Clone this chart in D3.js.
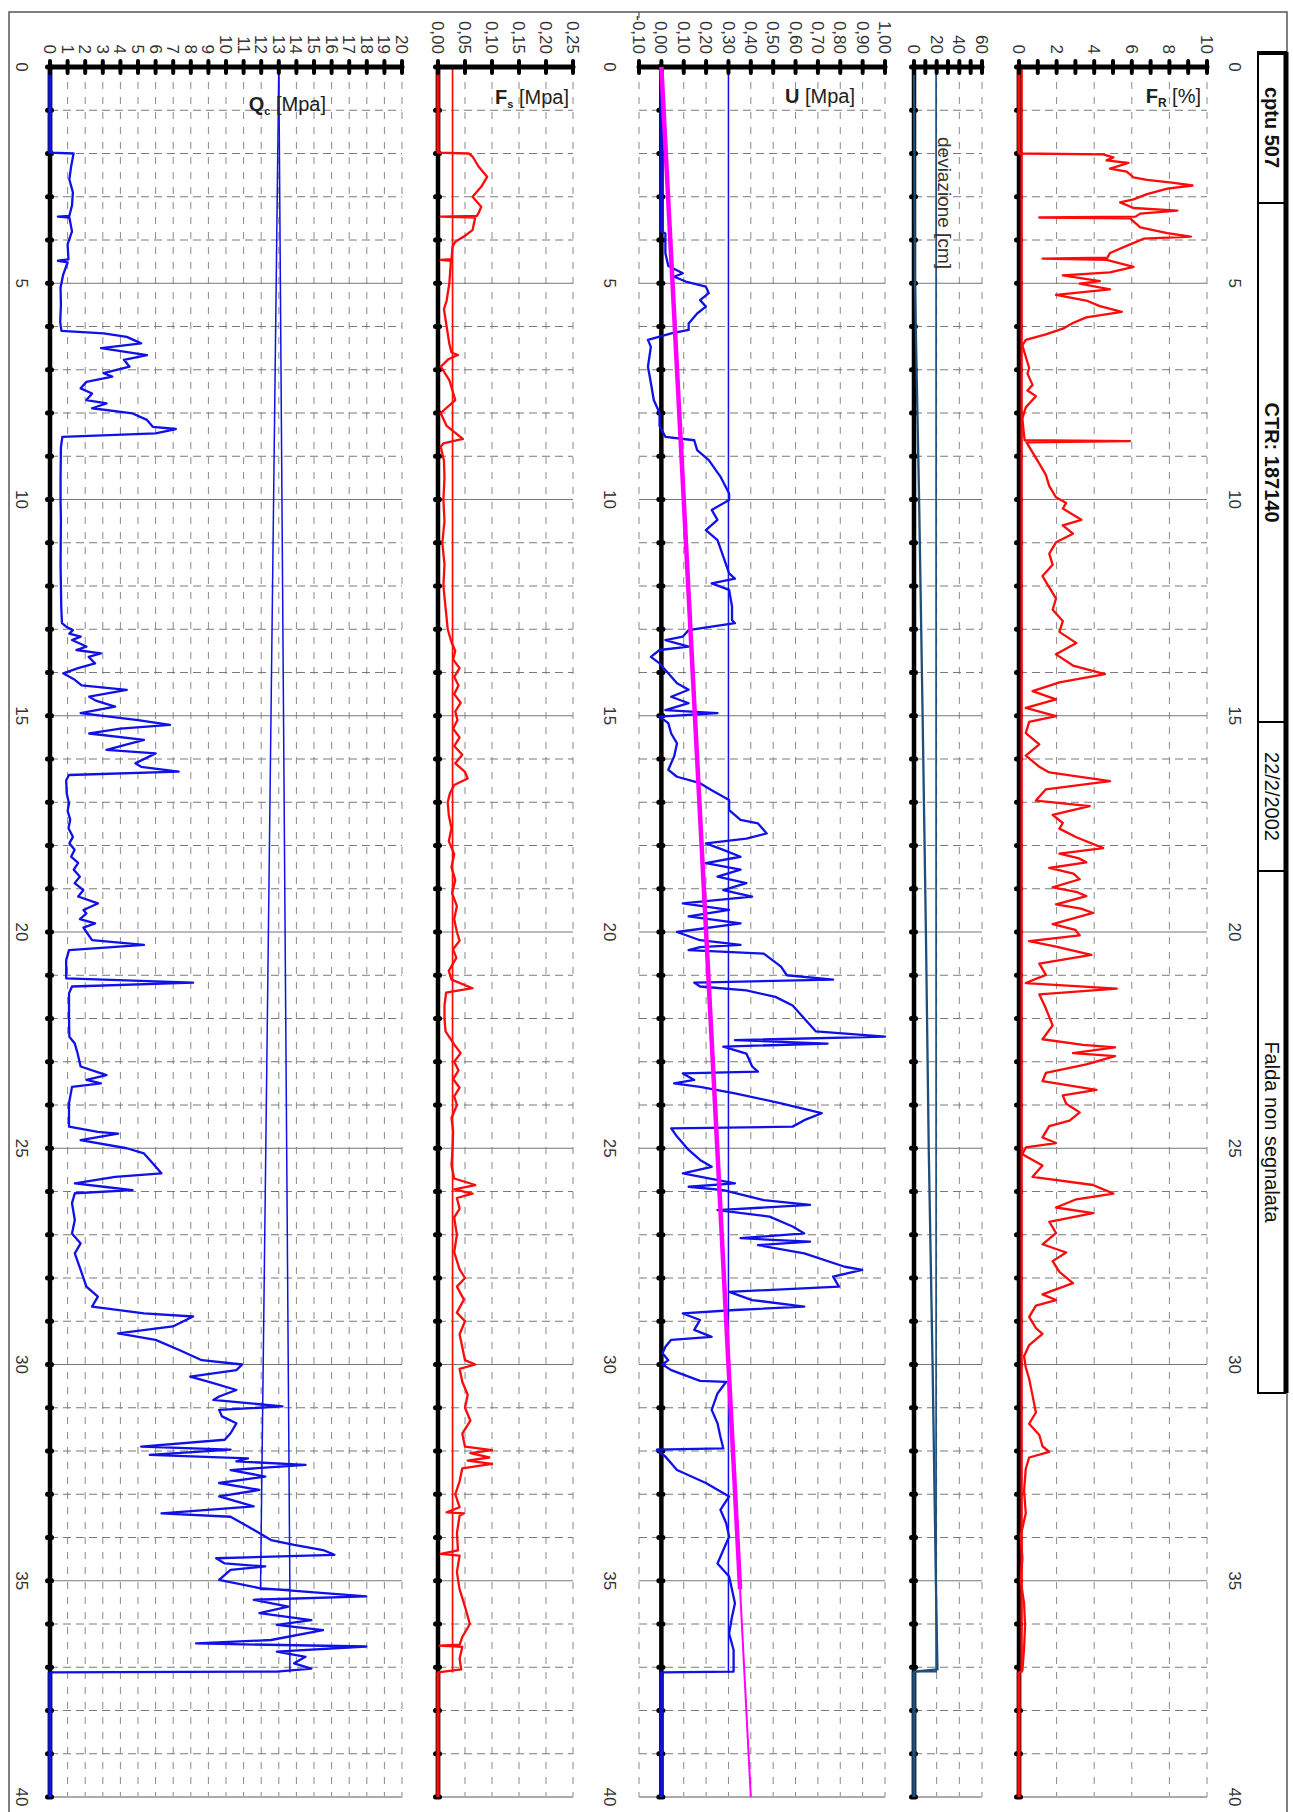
<!DOCTYPE html>
<html><head><meta charset="utf-8">
<script src="https://cdn.jsdelivr.net/npm/d3@7"></script>
<style>
html,body{margin:0;padding:0;background:#fff;}
svg{display:block;font-family:"Liberation Sans",Arial,sans-serif;}
</style></head><body>
<svg id="c" width="1293" height="1812"></svg>
<script>
// ---------------- DATA ----------------
const depthDomain = [0, 40];
const depthTickValues = d3.range(0, 41);
const depthLabels = [0, 5, 10, 15, 20, 25, 30, 35, 40];

const qcTicks = d3.range(0, 21);
const qcTickLabels = qcTicks.map(String);
const fsTicks = [0, 0.05, 0.10, 0.15, 0.20, 0.25];
const fsTickLabels = ["0,00", "0,05", "0,10", "0,15", "0,20", "0,25"];
const uTicks = [-0.1, 0, 0.1, 0.2, 0.3, 0.4, 0.5, 0.6, 0.7, 0.8, 0.9, 1.0];
const uTickLabels = ["-0,10", "0,00", "0,10", "0,20", "0,30", "0,40", "0,50", "0,60", "0,70", "0,80", "0,90", "1,00"];
const devTicks = [0, 10, 20, 30, 40, 50, 60];
const devTickLabels = ["0", "", "20", "", "40", "", "60"];
const frTicks = d3.range(0, 11);
const frTickLabels = ["0", "", "2", "", "4", "", "6", "", "8", "", "10"];

// [depth (m), value]
const qcSeries = [
[0,0],[1.98,0],[2.0,1.34],[2.3,1.2],[2.6,1.1],[2.9,1.3],[3.2,1.25],[3.44,1.1],[3.46,0.45],[3.48,1.1],[3.8,1.25],[4.1,1.0],[4.45,1.05],[4.48,0.45],[4.52,1.0],[4.8,0.75],[5.1,0.6],[5.5,0.62],[5.9,0.58],[6.1,0.65],[6.16,3.05],[6.24,4.36],[6.39,5.18],[6.5,2.9],[6.66,5.51],[6.77,4.2],[6.93,4.52],[7.08,3.05],[7.16,3.54],[7.28,2.07],[7.43,1.74],[7.55,2.39],[7.7,2.07],[7.78,3.21],[7.89,2.39],[8.01,4.69],[8.16,5.51],[8.32,5.84],[8.37,7.15],[8.47,6.0],[8.55,0.7],[8.8,0.62],[9.5,0.6],[10,0.6],
[10.5,0.62],[11.5,0.6],[12.5,0.64],[12.86,0.68],[12.94,0.92],[13.02,1.3],[13.1,1.1],[13.17,1.74],[13.25,1.25],[13.4,2.07],[13.48,1.5],[13.56,2.89],[13.64,2.2],[13.79,2.56],[13.9,1.6],[14.02,0.75],[14.17,1.41],[14.3,1.8],[14.4,4.36],[14.56,2.23],[14.65,2.6],[14.79,3.7],[14.94,1.74],[15.1,5.0],[15.21,6.82],[15.3,4.0],[15.41,2.23],[15.56,5.34],[15.79,3.21],[15.87,6.0],[16.1,4.85],[16.18,5.18],[16.29,7.31],[16.37,1.08],[16.49,0.92],[16.8,0.95],[17.03,1.08],[17.2,1.0],[17.4,1.15],[17.6,1.05],[17.8,1.3],[17.95,1.1],[18.1,1.4],[18.26,1.2],[18.4,1.6],[18.56,1.35],[18.72,1.7],[18.87,1.4],[19.03,1.9],[19.18,1.6],[19.34,2.72],[19.49,1.9],[19.57,2.07],[19.7,1.7],[19.8,2.56],[19.9,1.9],
[20.0,2.07],[20.19,2.39],[20.3,5.34],[20.42,1.08],[20.65,0.92],[21.07,0.92],[21.17,8.13],[21.26,1.25],[21.42,1.08],[22.0,1.08],[22.42,1.1],[22.58,1.41],[22.81,1.57],[23.11,1.74],[23.31,3.21],[23.42,2.07],[23.5,2.89],[23.58,1.25],[23.96,1.08],[24.5,1.08],[24.62,2.72],[24.66,3.87],[24.81,1.74],[25.0,4.36],[25.12,5.34],[25.27,5.67],[25.58,6.33],[25.66,3.7],[25.81,1.41],[25.89,3.05],[25.97,4.69],[26.04,1.41],[26.27,1.25],[26.66,1.41],[26.97,1.25],[27.2,1.74],[27.43,1.41],[27.81,1.74],[28.2,2.07],[28.43,2.72],[28.66,2.39],[28.82,5.34],[28.89,8.13],[29.12,6.98],[29.28,3.87],[29.43,6.0],[29.66,7.31],[29.78,7.97],
[29.9,8.62],[30.0,10.92],[30.13,10.59],[30.28,7.97],[30.43,9.28],[30.59,10.59],[30.74,9.61],[30.82,9.28],[30.97,13.21],[31.05,9.61],[31.2,9.77],[31.36,10.59],[31.59,10.26],[31.74,9.93],[31.9,5.18],[31.97,10.26],[32.09,5.67],[32.17,11.25],[32.24,10.59],[32.32,14.52],[32.44,10.26],[32.59,12.23],[32.74,9.61],[32.9,11.9],[33.05,9.61],[33.28,11.57],[33.44,6.33],[33.52,10.26],[33.67,10.92],[33.82,11.57],[34.06,12.56],[34.17,13.87],[34.29,15.51],[34.4,16.16],[34.48,9.44],[34.6,9.93],[34.67,12.23],[34.75,10.26],[34.98,9.61],[35.17,11.9],[35.36,17.97],[35.44,11.57],[35.6,13.54],[35.75,11.9],[35.91,14.85],[36.02,12.89],[36.14,15.51],[36.37,12.56],[36.45,8.3],[36.52,17.97],[36.64,12.89],[36.76,14.52],[36.91,13.87],[37.03,14.85],[37.1,12.89],[37.12,0],[40,0]
];
const qcRefLow = [[0,13.0],[35.2,11.96],[35.2,13.63]];
const qcRefHigh = [[0,13.0],[35.2,13.63],[37.12,13.63]];

const fsSeries = [
[0,0],[1.98,0],[2.0,0.057],[2.07,0.064],[2.3,0.075],[2.54,0.091],[2.77,0.080],[3.0,0.064],[3.23,0.080],[3.38,0.075],[3.44,0.072],[3.46,0.005],[3.48,0.069],[3.77,0.064],[3.92,0.048],[4.04,0.032],[4.15,0.027],[4.44,0.025],[4.46,0.005],[4.48,0.024],[5.0,0.021],[5.4,0.016],[5.6,0.011],[6.0,0.016],[6.4,0.021],[6.6,0.025],[6.66,0.037],[6.75,0.02],[6.93,0.005],[7.24,0.021],[7.7,0.032],[8.0,0.005],[8.3,0.016],[8.6,0.046],[8.7,0.01],[8.78,0.005],[9.1,0.011],[9.5,0.012],[10,0.01],
[10.5,0.012],[11,0.008],[11.5,0.012],[12,0.01],[12.5,0.014],[13,0.018],[13.3,0.025],[13.5,0.032],[13.7,0.028],[13.9,0.04],[14.1,0.03],[14.3,0.038],[14.5,0.03],[14.7,0.042],[14.9,0.032],[15.1,0.036],[15.3,0.028],[15.5,0.04],[15.7,0.03],[15.9,0.045],[16.1,0.032],[16.3,0.05],[16.45,0.055],[16.6,0.03],[16.8,0.022],[17.0,0.018],[17.3,0.02],[17.6,0.025],[17.9,0.02],[18.2,0.03],[18.5,0.025],[18.8,0.032],[19.1,0.026],[19.4,0.035],[19.7,0.03],[20,0.035],
[20.2,0.04],[20.4,0.028],[20.6,0.034],[20.9,0.02],[21.1,0.025],[21.3,0.064],[21.4,0.015],[21.7,0.012],[22.0,0.012],[22.3,0.014],[22.6,0.03],[22.8,0.042],[23.0,0.03],[23.2,0.038],[23.4,0.028],[23.6,0.04],[23.8,0.03],[24.0,0.035],[24.3,0.025],[24.6,0.028],[25.0,0.027],[25.4,0.025],[25.7,0.03],[25.85,0.069],[25.95,0.03],[26.05,0.064],[26.15,0.035],[26.4,0.04],[26.6,0.03],[27.0,0.035],[27.4,0.03],[27.8,0.04],[28.0,0.05],[28.2,0.035],[28.5,0.048],[28.8,0.035],[29.0,0.05],[29.3,0.04],[29.6,0.045],[29.9,0.05],
[30.0,0.069],[30.1,0.04],[30.4,0.045],[30.7,0.055],[31.0,0.05],[31.3,0.06],[31.6,0.045],[31.9,0.05],[31.98,0.1],[32.05,0.06],[32.15,0.095],[32.22,0.055],[32.3,0.1],[32.4,0.045],[32.7,0.04],[33.0,0.032],[33.3,0.04],[33.42,0.016],[33.44,0.048],[33.5,0.04],[33.9,0.035],[34.3,0.037],[34.38,0.005],[34.42,0.04],[34.8,0.035],[35.2,0.04],[35.6,0.05],[36.0,0.059],[36.3,0.045],[36.48,0.04],[36.5,0.003],[36.53,0.045],[36.8,0.04],[37.05,0.043],[37.12,0],[40,0]
];
const fsRef = [[0,0.027],[37.12,0.027]];

const uSeries = [
[0,0],[3.8,0],[3.85,0.018],[4.3,0.018],[4.6,0.031],[4.77,0.096],[4.85,0.057],[4.96,0.109],[5.08,0.199],[5.23,0.212],[5.39,0.173],[5.54,0.199],[5.7,0.16],[5.93,0.122],[6.08,0.122],[6.16,0.044],[6.31,-0.06],[6.47,-0.047],[6.93,-0.06],[7.3,-0.047],[7.7,-0.034],[8.0,-0.008],[8.3,-0.008],[8.55,0.018],[8.63,0.147],[8.86,0.16],[9.09,0.212],[9.47,0.264],[9.86,0.303],
[10.01,0.303],[10.24,0.225],[10.47,0.251],[10.71,0.199],[10.94,0.251],[11.32,0.277],[11.71,0.303],[11.83,0.329],[11.94,0.225],[12.09,0.303],[12.48,0.316],[12.79,0.316],[12.86,0.329],[12.94,0.225],[13.02,0.122],[13.17,0.096],[13.25,0.018],[13.4,0.122],[13.48,-0.008],[13.64,-0.047],[13.79,-0.008],[13.94,0.018],[14.25,0.07],[14.4,0.122],[14.56,0.044],[14.71,0.122],[14.87,0.018],[14.94,0.251],[15.02,-0.008],[15.17,0.031],[15.41,0.044],[15.64,0.07],[15.94,0.057],[16.25,0.031],[16.41,0.07],[16.56,0.173],[16.72,0.225],[16.95,0.303],[17.18,0.303],[17.41,0.354],[17.49,0.432],[17.72,0.471],[17.84,0.38],[17.95,0.199],[18.1,0.277],[18.26,0.354],[18.41,0.199],[18.56,0.354],[18.72,0.251],[18.87,0.38],[19.03,0.277],[19.18,0.406],[19.34,0.096],[19.49,0.303],[19.64,0.122],[19.8,0.354],
[20.0,0.07],[20.19,0.173],[20.3,0.354],[20.35,0.173],[20.42,0.122],[20.5,0.458],[20.8,0.535],[21.0,0.561],[21.1,0.768],[21.17,0.147],[21.26,0.173],[21.35,0.38],[21.5,0.51],[21.7,0.587],[22.0,0.639],[22.3,0.691],[22.42,1.0],[22.5,0.329],[22.58,0.743],[22.65,0.277],[22.81,0.38],[23.11,0.406],[23.23,0.432],[23.27,0.096],[23.42,0.147],[23.5,0.057],[23.58,0.173],[23.73,0.329],[23.96,0.535],[24.19,0.717],[24.35,0.639],[24.5,0.587],[24.54,0.044],[24.73,0.07],[25.04,0.122],[25.27,0.173],[25.43,0.225],[25.58,0.096],[25.81,0.329],[25.89,0.122],[25.97,0.277],[26.2,0.458],[26.31,0.665],[26.43,0.251],[26.58,0.484],[26.81,0.587],[26.97,0.639],[27.08,0.354],[27.16,0.665],[27.24,0.432],[27.43,0.639],[27.74,0.82],[27.81,0.898],[27.97,0.768],[28.2,0.794],[28.32,0.303],[28.51,0.406],[28.66,0.639],[28.74,0.329],[28.82,0.096],[28.97,0.173],[29.2,0.147],[29.36,0.225],[29.43,0.044],[29.59,0.018],[29.74,0.005],
[29.9,0.031],[30.0,0.005],[30.13,0.044],[30.38,0.173],[30.4,0.29],[30.67,0.251],[31.05,0.225],[31.36,0.251],[31.67,0.264],[31.94,0.277],[31.97,-0.02],[32.13,0.018],[32.44,0.07],[32.74,0.199],[33.05,0.303],[33.36,0.264],[33.67,0.29],[33.98,0.303],[34.29,0.277],[34.6,0.251],[34.9,0.303],[35.21,0.316],[35.52,0.329],[35.83,0.316],[36.22,0.303],[36.6,0.323],[37.1,0.323],[37.12,0],[40,0]
];
const uRef = [[0,0.30],[37.12,0.30]];
const uHydroThick = [[0,0],[35.2,0.352]];
const uHydroThin = [[35.2,0.352],[40,0.40]];

const devSeries = [[0,0],[5,0.8],[10,4.5],[15,7.6],[20,10.5],[25,13],[30,16.4],[35,19.3],[37.05,20.7],[37.1,0],[40,0]];
const devRef = [[0,19.5],[37.1,19.5],[37.1,0]];

const frSeries = [
[0,0],[2.0,0],[2.02,4.48],[2.09,5.02],[2.16,4.66],[2.22,5.82],[2.35,4.84],[2.42,5.73],[2.55,6.09],[2.61,6.81],[2.68,8.24],[2.74,9.23],[2.81,7.89],[2.94,6.81],[3.06,6.09],[3.13,5.38],[3.26,6.09],[3.32,8.42],[3.39,6.45],[3.46,6.2],[3.48,1.08],[3.5,5.91],[3.71,6.45],[3.84,7.89],[3.92,9.14],[3.97,6.63],[4.1,5.91],[4.3,4.84],[4.41,4.7],[4.43,1.25],[4.46,4.66],[4.62,6.09],[4.75,4.84],[4.82,2.33],[4.95,4.3],[5.01,3.23],[5.14,4.84],[5.27,1.97],[5.4,3.58],[5.53,4.3],[5.66,5.47],[5.79,3.58],[5.92,2.87],[6.05,2.33],[6.18,1.43],[6.31,0.36],[6.44,0.18],[6.7,0.36],[6.96,0.54],[7.09,0.45],[7.35,0.72],[7.48,0.45],[7.61,0.9],[7.74,0.63],[7.87,0.36],[8.13,0.18],[8.52,0.27],[8.63,0.3],[8.65,5.91],[8.68,0.4],[8.91,0.72],[9.17,1.08],[9.43,1.43],[9.69,1.61],[9.95,1.97],[10.08,2.51],[10.21,2.33],[10.47,3.32],[10.6,2.33],[10.79,2.87],[10.99,1.97],[11.25,1.61],[11.51,1.79],[11.77,1.25],[12.03,1.61],[12.29,1.97],[12.55,1.79],[12.81,2.33],[13.06,2.15],[13.32,3.05],[13.58,1.97],[13.84,2.87],[14.04,4.57],[14.23,2.15],[14.43,0.72],[14.62,1.97],[14.82,0.36],[15.01,1.97],[15.14,0.54],[15.4,0.36],[15.66,1.08],[15.92,0.36],[16.18,1.08],[16.31,1.61],[16.51,4.84],[16.7,1.43],[16.96,0.9],[17.09,3.76],[17.29,1.79],[17.48,2.33],[17.61,2.15],[17.81,3.05],[18.06,4.48],[18.19,2.15],[18.3,3.2],[18.39,3.58],[18.52,1.61],[18.65,2.9],[18.78,3.23],[18.97,1.79],[19.08,3.1],[19.17,3.58],[19.36,1.97],[19.46,3.3],[19.56,3.94],[19.82,1.79],[19.95,3.0],[20.08,3.23],
[20.21,0.54],[20.34,1.97],[20.53,3.85],[20.73,1.08],[20.99,1.43],[21.18,0.36],[21.31,5.2],[21.44,1.08],[21.77,1.43],[22.16,1.79],[22.48,1.25],[22.61,3.41],[22.67,5.11],[22.8,2.87],[22.87,5.11],[23.06,3.58],[23.26,1.43],[23.45,1.25],[23.65,4.12],[23.78,2.33],[23.97,2.51],[24.17,3.23],[24.36,2.69],[24.49,1.61],[24.75,1.25],[24.88,1.97],[24.98,0.36],[25.14,0.18],[25.4,1.25],[25.66,0.72],[25.85,3.94],[26.05,5.02],[26.18,3.05],[26.37,1.97],[26.5,3.94],[26.7,1.61],[26.96,1.97],[27.22,1.25],[27.41,2.51],[27.61,1.79],[27.86,2.15],[28.12,2.87],[28.38,1.25],[28.51,1.97],[28.64,0.9],[28.9,0.54],[29.16,0.9],[29.29,1.25],[29.55,0.54],[29.81,0.27],[30.07,0.36],[30.33,0.54],[30.72,0.72],[31.11,0.9],[31.37,0.54],[31.63,1.08],[31.89,1.25],[32.02,1.61],[32.15,0.54],[32.41,0.36],[32.92,0.27],[33.44,0.36],[33.96,0.09],[34.48,0.18],[34.99,0.09],[35.52,0.27],[36.04,0.32],[36.56,0.27],[37.08,0.18],[37.12,0],[40,0]
];
const frRef = [[0,0.14],[37.12,0.14]];

const headerTexts = ["cptu 507", "CTR: 187140", "22/2/2002", "Falda non segnalata"];
const headerBold = [true, true, false, false];

// ---------------- LAYOUT ----------------
const svg = d3.select("#c");
svg.append("rect").attr("width", 1293).attr("height", 1812).attr("fill", "#fff");
const Y0 = 67, Y1 = 1797;
const y = d3.scaleLinear().domain(depthDomain).range([Y0, Y1]);

// outer frame
svg.append("path").attr("d", "M9,1812 V12 H1287 V1812").attr("fill", "none").attr("stroke", "#555").attr("stroke-width", 1.5);
svg.append("line").attr("x1", 639).attr("x2", 639).attr("y1", 12).attr("y2", 18).attr("stroke", "#555").attr("stroke-width", 1.2);

const panels = [
  {id:"qc", domain:[0,20], range:[50,402], axisAt:0, ticks:qcTicks, labels:qcTickLabels, grid:d3.range(1,21),
   color:"#1010e8", zeroColor:"#10108a", series:qcSeries, refs:[qcRefLow, qcRefHigh], refWidth:1.5},
  {id:"fs", domain:[0,0.25], range:[438,573], axisAt:0, ticks:fsTicks, labels:fsTickLabels, grid:[0.05,0.10,0.15,0.20,0.25],
   color:"#ff0a0a", zeroColor:"#8a1010", series:fsSeries, refs:[fsRef], refWidth:1.7},
  {id:"u", domain:[-0.1,1.0], range:[639,885], axisAt:0, ticks:uTicks, labels:uTickLabels, grid:[-0.1,0.1,0.2,0.3,0.4,0.5,0.6,0.7,0.8,0.9,1.0],
   color:"#1010e8", zeroColor:"#10108a", series:uSeries, refs:[uRef], refWidth:1.5},
  {id:"dev", domain:[0,60], range:[914,982], axisAt:0, ticks:devTicks, labels:devTickLabels, grid:[20,40,60],
   color:"#1f4e79", zeroColor:"#1a3550", series:devSeries, refs:[devRef], refWidth:1.7},
  {id:"fr", domain:[0,10], range:[1019,1207], axisAt:0, ticks:frTicks, labels:frTickLabels, grid:[2,4,6,8,10],
   color:"#ff0a0a", zeroColor:"#8a1010", series:frSeries, refs:[frRef], refWidth:2.4}
];

const minorDepths = depthTickValues.filter(d => d > 0 && d < 40 && d % 5 !== 0);
const majorDepths = depthTickValues.filter(d => d > 0 && d < 40 && d % 5 === 0);

panels.forEach(p => {
  const x = d3.scaleLinear().domain(p.domain).range(p.range);
  p.x = x;
  const g = svg.append("g").attr("class", "panel-" + p.id);
  g.selectAll(".vg").data(p.grid).join("line")
    .attr("x1", d => x(d)).attr("x2", d => x(d)).attr("y1", Y0).attr("y2", Y1)
    .attr("stroke", "#8a8a8a").attr("stroke-width", 1).attr("stroke-dasharray", "7,8");
  g.selectAll(".hg").data(minorDepths).join("line")
    .attr("x1", p.range[0]).attr("x2", p.range[1]).attr("y1", d => y(d)).attr("y2", d => y(d))
    .attr("stroke", "#7a7a7a").attr("stroke-width", 1).attr("stroke-dasharray", "8,5");
  g.selectAll(".hm").data(majorDepths).join("line")
    .attr("x1", p.range[0]).attr("x2", p.range[1]).attr("y1", d => y(d)).attr("y2", d => y(d))
    .attr("stroke", "#777").attr("stroke-width", 1);
  g.append("line").attr("x1", p.range[0]).attr("x2", p.range[1]).attr("y1", y(40)).attr("y2", y(40))
    .attr("stroke", "#aaa").attr("stroke-width", 2);

  const ax = x(p.axisAt);
  g.append("line").attr("x1", ax).attr("x2", ax).attr("y1", Y0).attr("y2", Y1)
    .attr("stroke", "#000").attr("stroke-width", 4.5);
  g.selectAll(".dt").data(depthTickValues).join("line")
    .attr("x1", ax - 2.5).attr("x2", ax + 1.5).attr("y1", d => y(d)).attr("y2", d => y(d))
    .attr("stroke", "#000").attr("stroke-width", 5).attr("stroke-linecap", "round");

  const line = d3.line().x(d => x(d[1])).y(d => y(d[0]));
  p.refs.forEach(r => {
    g.append("path").attr("d", line(r)).attr("fill", "none").attr("stroke", p.color).attr("stroke-width", p.refWidth);
  });
  g.append("path").attr("d", line.defined(d => d[1] === 0)(p.series))
    .attr("fill", "none").attr("stroke", p.zeroColor).attr("stroke-width", 4.5);
  line.defined(() => true);
  g.append("path").attr("d", line(p.series)).attr("fill", "none")
    .attr("stroke", p.color).attr("stroke-width", 2.3).attr("stroke-linejoin", "round");

  g.append("line").attr("x1", p.range[0]).attr("x2", p.range[1]).attr("y1", Y0).attr("y2", Y0)
    .attr("stroke", "#000").attr("stroke-width", 5).attr("stroke-linecap", "round");
  g.selectAll(".tt").data(p.ticks).join("line")
    .attr("x1", d => x(d)).attr("x2", d => x(d)).attr("y1", Y0 - 6).attr("y2", Y0 + 6)
    .attr("stroke", "#000").attr("stroke-width", 4).attr("stroke-linecap", "round");
  g.selectAll(".tl").data(p.ticks).join("text")
    .attr("transform", d => `translate(${x(d)},${Y0 - 13}) rotate(90)`)
    .attr("text-anchor", "end").attr("dy", "0.35em")
    .attr("font-size", 17).attr("fill", "#333")
    .text((d, i) => p.labels[i]);
});

const pu = panels[2];
const hline = d3.line().x(d => pu.x(d[1])).y(d => y(d[0]));
svg.append("path").attr("d", hline(uHydroThick)).attr("fill", "none").attr("stroke", "#ff00ff").attr("stroke-width", 4.5);
svg.append("path").attr("d", hline(uHydroThin)).attr("fill", "none").attr("stroke", "#ff00ff").attr("stroke-width", 2);

[22, 610, 1235].forEach(lx => {
  svg.append("g").selectAll("text").data(depthLabels).join("text")
    .attr("transform", d => `translate(${lx},${y(d)}) rotate(90)`)
    .attr("text-anchor", "middle").attr("dy", "0.35em")
    .attr("font-size", 17).attr("fill", "#333").text(d => d);
});

function title(xEnd, yBase, main, sub, rest, subSize) {
  const t = svg.append("text").attr("x", xEnd).attr("y", yBase).attr("text-anchor", "end").attr("fill", "#222");
  t.append("tspan").attr("font-size", 20).attr("font-weight", "bold").text(main);
  if (sub) t.append("tspan").attr("font-size", subSize).attr("font-weight", "bold").attr("dy", 4).text(sub);
  t.append("tspan").attr("font-size", 20).attr("dy", sub ? -4 : 0).text(rest);
}
title(326, 111, "Q", "c", " [Mpa]", 11);
title(569, 104, "F", "s", " [Mpa]", 11);
title(855, 103, "U", "", " [Mpa]", 11);
title(1201, 103, "F", "R", " [%]", 12);

svg.append("text").attr("transform", `translate(945,203) rotate(90)`).attr("text-anchor", "middle")
  .attr("dy", "0.35em").attr("font-size", 19).attr("fill", "#333").text("deviazione [cm]");

const hb = [52, 203, 722, 871, 1393];
const hx0 = 1258, hx1 = 1285;
svg.append("rect").attr("x", hx0).attr("y", hb[0]).attr("width", hx1 - hx0).attr("height", hb[4] - hb[0])
  .attr("fill", "#fff").attr("stroke", "#000").attr("stroke-width", 2);
svg.append("line").attr("x1", hx0).attr("x2", hx1 + 2).attr("y1", hb[0] + 1).attr("y2", hb[0] + 1).attr("stroke", "#000").attr("stroke-width", 4);
svg.append("line").attr("x1", hx1 + 1).attr("x2", hx1 + 1).attr("y1", hb[0]).attr("y2", hb[4]).attr("stroke", "#000").attr("stroke-width", 5);
hb.slice(1, 4).forEach(v => svg.append("line").attr("x1", hx0).attr("x2", hx1).attr("y1", v).attr("y2", v).attr("stroke", "#000").attr("stroke-width", 2));
headerTexts.forEach((t, i) => {
  svg.append("text").attr("transform", `translate(${(hx0 + hx1) / 2},${(hb[i] + hb[i + 1]) / 2}) rotate(90)`)
    .attr("text-anchor", "middle").attr("dy", "0.35em").attr("font-size", 20)
    .attr("font-weight", headerBold[i] ? "bold" : "normal").attr("fill", "#111").text(t);
});
</script></body></html>
